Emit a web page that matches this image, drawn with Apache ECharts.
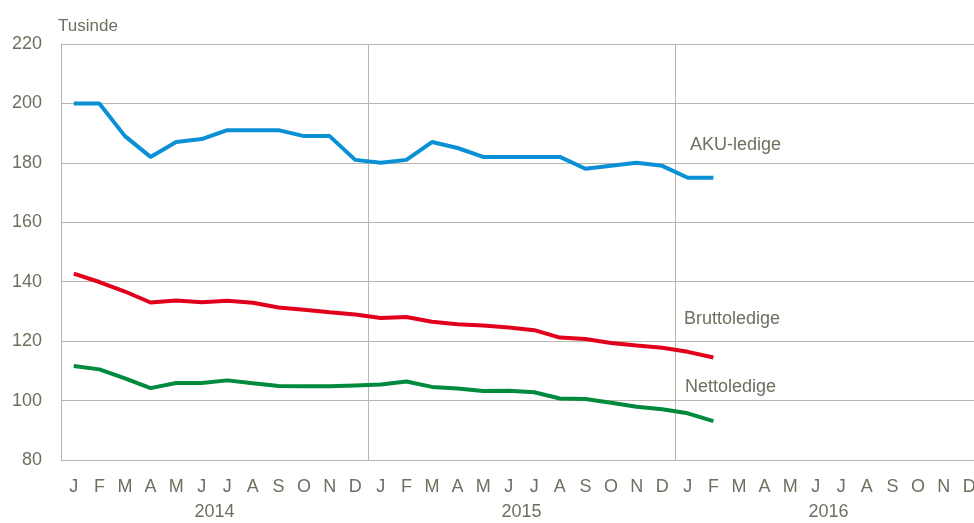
<!DOCTYPE html>
<html>
<head>
<meta charset="utf-8">
<script src="https://cdn.jsdelivr.net/npm/echarts@6/dist/echarts.min.js"></script>
<style>
  html, body { margin: 0; padding: 0; background: #fff; overflow: hidden; }
  #chart { width: 974px; height: 523px; }
</style>
</head>
<body>
<div id="chart"></div>
<script>
const monthLetters = ['J', 'F', 'M', 'A', 'M', 'J', 'J', 'A', 'S', 'O', 'N', 'D'];
const years = ['2014', '2015', '2016'];
const months = [].concat(monthLetters, monthLetters, monthLetters);

// Tusinde, jan 2014 - feb 2016
const akuLedige = [200, 200, 189, 182, 187, 188, 191, 191, 191, 189, 189, 181,
  180, 181, 187, 185, 182, 182, 182, 182, 178, 179, 180, 179,
  175, 175];
const bruttoLedige = [142.7, 139.9, 136.7, 133, 133.7, 133.1, 133.6, 132.9, 131.3, 130.6, 129.7, 129,
  127.8, 128.1, 126.5, 125.7, 125.3, 124.6, 123.7, 121.2, 120.7, 119.4, 118.5, 117.8,
  116.4, 114.5];
const nettoLedige = [111.6, 110.5, 107.5, 104.2, 105.9, 105.9, 106.8, 105.8, 104.9, 104.8, 104.8, 105.1,
  105.4, 106.4, 104.6, 104.1, 103.2, 103.3, 102.8, 100.7, 100.5, 99.3, 97.9, 97.1,
  95.7, 93.1];

const textColor = '#6f6e5f';
const gridColor = '#b9b7ab';
const font = 'Liberation Sans';

const chart = echarts.init(document.getElementById('chart'));

const lineSeries = (name, data, color) => ({
  name: name,
  type: 'line',
  data: data,
  symbol: 'none',
  smooth: false,
  lineStyle: { color: color, width: 4 },
  itemStyle: { color: color },
  animation: false
});

chart.setOption({
  backgroundColor: '#fff',
  textStyle: { fontFamily: font },
  // plot runs a little past the right edge, like the original
  grid: { left: 61, width: 921, top: 44, bottom: 63, outerBoundsMode: 'none' },
  xAxis: [
    {
      type: 'category',
      data: months,
      boundaryGap: true,
      axisLine: { lineStyle: { color: gridColor, width: 1 } },
      axisTick: { show: false },
      axisLabel: { color: textColor, fontSize: 18, margin: 18, interval: 0 },
      splitLine: {
        show: true,
        interval: (i) => i % 12 === 0,
        lineStyle: { color: gridColor, width: 1 }
      }
    },
    {
      type: 'category',
      data: years,
      position: 'bottom',
      gridIndex: 0,
      axisLine: { show: false },
      axisTick: { show: false },
      splitLine: { show: false },
      axisLabel: { color: textColor, fontSize: 18, margin: 43 }
    }
  ],
  yAxis: {
    type: 'value',
    min: 80,
    max: 220,
    interval: 20,
    axisLine: { show: true, lineStyle: { color: gridColor, width: 1 } },
    axisTick: { show: false },
    axisLabel: { color: textColor, fontSize: 18, margin: 19 },
    splitLine: { lineStyle: { color: gridColor, width: 1 } }
  },
  graphic: [
    { type: 'text', left: 58, top: 18, style: { text: 'Tusinde', fill: textColor, font: '17px ' + font } },
    { type: 'text', left: 690, top: 136, style: { text: 'AKU-ledige', fill: textColor, font: '18px ' + font } },
    { type: 'text', left: 684, top: 310, style: { text: 'Bruttoledige', fill: textColor, font: '18px ' + font } },
    { type: 'text', left: 685, top: 378, style: { text: 'Nettoledige', fill: textColor, font: '18px ' + font } }
  ],
  series: [
    lineSeries('AKU-ledige', akuLedige, '#0a90d5'),
    lineSeries('Bruttoledige', bruttoLedige, '#e1001c'),
    lineSeries('Nettoledige', nettoLedige, '#008a3e')
  ]
});
</script>
</body>
</html>
